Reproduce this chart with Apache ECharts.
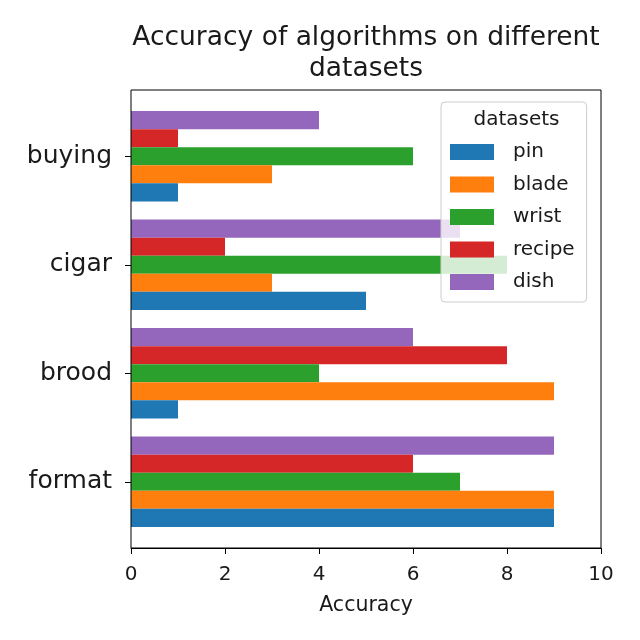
<!DOCTYPE html>
<html>
<head>
<meta charset="utf-8">
<script src="https://cdn.jsdelivr.net/npm/echarts@6/dist/echarts.min.js"></script>
<style>html,body{margin:0;padding:0;background:#fff;}#c{width:640px;height:640px;}</style>
</head>
<body>
<div id="c"></div>
<script>
const categories = ['format', 'brood', 'cigar', 'buying'];
const seriesNames = ['pin', 'blade', 'wrist', 'recipe', 'dish'];
const pin    = [9, 1, 5, 1];
const blade  = [9, 9, 3, 3];
const wrist  = [7, 4, 8, 6];
const recipe = [6, 8, 2, 1];
const dish   = [9, 6, 7, 4];
const xTicks = [0, 2, 4, 6, 8, 10];
const colors = ['#1f77b4', '#ff7f0e', '#2ca02c', '#d62728', '#9467bd'];
const values = [pin, blade, wrist, recipe, dish];

const FONT = 'DejaVu Sans';
const chart = echarts.init(document.getElementById('c'), null, {renderer: 'canvas'});

const series = [];
for (let i = seriesNames.length - 1; i >= 0; i--) {
  series.push({
    name: seriesNames[i], type: 'bar', xAxisIndex: 1, yAxisIndex: 1,
    data: values[i], itemStyle: {color: colors[i]},
    barGap: '0%', barCategoryGap: '16.667%', z: 2
  });
}

chart.setOption({
  animation: false,
  backgroundColor: '#ffffff',
  grid: [
    {left: 131, top: 90, right: 39, bottom: 92, show: true, borderColor: '#000', borderWidth: 1, backgroundColor: 'transparent', z: 3},
    {left: 131, top: 102, right: 39, height: 434}
  ],
  xAxis: [
    {type: 'value', gridIndex: 0, min: xTicks[0], max: xTicks[xTicks.length - 1], interval: 2,
     axisLine: {show: true, lineStyle: {color: '#000', width: 1}},
     axisTick: {show: true, inside: false, length: 6, lineStyle: {color: '#000'}},
     axisLabel: {fontFamily: FONT, fontSize: 20, color: '#1a1a1a', margin: 17},
     splitLine: {show: false},
     name: 'Accuracy', nameLocation: 'middle', nameGap: 47,
     nameTextStyle: {fontFamily: FONT, fontSize: 20.5, color: '#1a1a1a'}},
    {type: 'value', gridIndex: 1, min: 0, max: 10, show: false, splitLine: {show: false}}
  ],
  yAxis: [
    {type: 'value', gridIndex: 0, min: 0, max: 1, show: false, splitLine: {show: false}},
    {type: 'category', gridIndex: 1, data: categories,
     axisLine: {show: false},
     axisTick: {show: true, alignWithLabel: true, length: 6, lineStyle: {color: '#000'}},
     axisLabel: {fontFamily: FONT, fontSize: 25, color: '#1a1a1a', margin: 19},
     splitLine: {show: false}}
  ],
  legend: {
    data: seriesNames, orient: 'vertical', left: 441, top: 102,
    icon: 'rect', itemWidth: 44, itemHeight: 16, itemGap: 12.5,
    padding: [40, 12, 10, 9],
    backgroundColor: 'rgba(255,255,255,0.8)', borderColor: '#cccccc', borderWidth: 1, borderRadius: 4,
    textStyle: {fontFamily: FONT, fontSize: 20, color: '#1a1a1a', padding: [0, 0, 0, 14]},
    selectedMode: false
  },
  graphic: [
    {type: 'text', x: 366, y: 23, z: 100, style: {text: 'Accuracy of algorithms on different\ndatasets', font: '26.5px "DejaVu Sans"', fill: '#1a1a1a', align: 'center', verticalAlign: 'top', lineHeight: 31}},
    {type: 'text', x: 516.5, y: 120, z: 100, style: {text: 'datasets', font: '20px "DejaVu Sans"', fill: '#1a1a1a', align: 'center', verticalAlign: 'middle'}}
  ],
  series: series
});
</script>
</body>
</html>
